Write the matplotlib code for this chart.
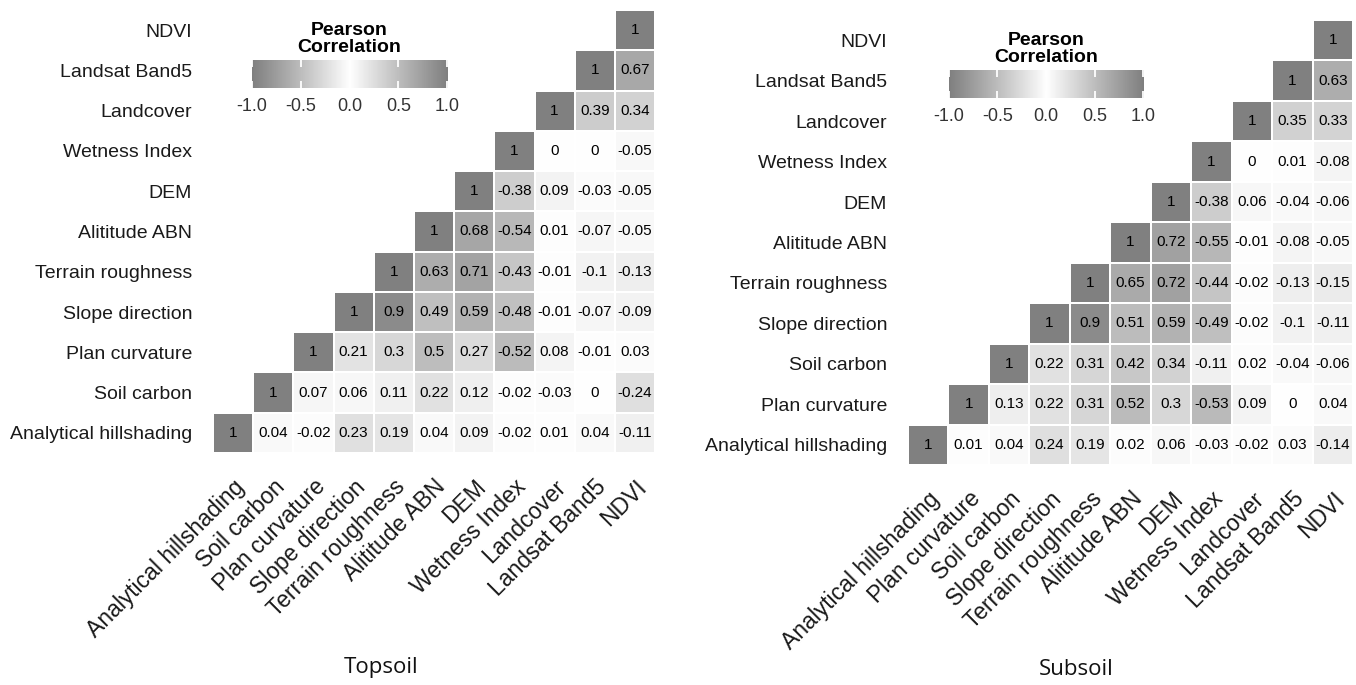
import matplotlib
matplotlib.use("Agg")
import matplotlib.pyplot as plt
import numpy as np
from matplotlib.colors import ListedColormap

plt.rcParams["font.family"] = ["Liberation Sans", "DejaVu Sans"]

# variable order, bottom row / first column first
top_vars = ["Analytical hillshading", "Soil carbon", "Plan curvature",
            "Slope direction", "Terrain roughness", "Alititude ABN", "DEM",
            "Wetness Index", "Landcover", "Landsat Band5", "NDVI"]
sub_vars = ["Analytical hillshading", "Plan curvature", "Soil carbon",
            "Slope direction", "Terrain roughness", "Alititude ABN", "DEM",
            "Wetness Index", "Landcover", "Landsat Band5", "NDVI"]

# upper triangle, row i holds corr(var_i, var_j) for j = i..10
top_rows = [
    [1, 0.04, -0.02, 0.23, 0.19, 0.04, 0.09, -0.02, 0.01, 0.04, -0.11],
    [1, 0.07, 0.06, 0.11, 0.22, 0.12, -0.02, -0.03, 0, -0.24],
    [1, 0.21, 0.3, 0.5, 0.27, -0.52, 0.08, -0.01, 0.03],
    [1, 0.9, 0.49, 0.59, -0.48, -0.01, -0.07, -0.09],
    [1, 0.63, 0.71, -0.43, -0.01, -0.1, -0.13],
    [1, 0.68, -0.54, 0.01, -0.07, -0.05],
    [1, -0.38, 0.09, -0.03, -0.05],
    [1, 0, 0, -0.05],
    [1, 0.39, 0.34],
    [1, 0.67],
    [1],
]
sub_rows = [
    [1, 0.01, 0.04, 0.24, 0.19, 0.02, 0.06, -0.03, -0.02, 0.03, -0.14],
    [1, 0.13, 0.22, 0.31, 0.52, 0.3, -0.53, 0.09, 0, 0.04],
    [1, 0.22, 0.31, 0.42, 0.34, -0.11, 0.02, -0.04, -0.06],
    [1, 0.9, 0.51, 0.59, -0.49, -0.02, -0.1, -0.11],
    [1, 0.65, 0.72, -0.44, -0.02, -0.13, -0.15],
    [1, 0.72, -0.55, -0.01, -0.08, -0.05],
    [1, -0.38, 0.06, -0.04, -0.06],
    [1, 0, 0.01, -0.08],
    [1, 0.35, 0.33],
    [1, 0.63],
    [1],
]
cbar_ticks = [-1.0, -0.5, 0.0, 0.5, 1.0]


def gray_lab_cmap(n=256):
    # gray50 -> white -> gray50, interpolated in CIE L*
    def l_to_srgb(L):
        fy = (L + 16) / 116
        Y = np.where(L > 8, fy ** 3, L / 903.3)
        return np.where(Y <= 0.0031308, 12.92 * Y, 1.055 * Y ** (1 / 2.4) - 0.055)
    L_end = 53.585  # L* of gray50
    t = np.linspace(-1, 1, n)
    L = 100 - np.abs(t) * (100 - L_end)
    g = np.clip(l_to_srgb(L), 0, 1)
    return ListedColormap(np.column_stack([g, g, g]))


cmap = gray_lab_cmap()


def draw_panel(fig, rect, cbar_rect, labels, rows, title, title_xy):
    n = len(labels)
    mat = np.full((n, n), np.nan)
    for i, r in enumerate(rows):
        mat[i, i:] = r

    ax = fig.add_axes(rect)
    ax.pcolormesh(np.arange(n + 1), np.arange(n + 1), np.ma.masked_invalid(mat),
                  cmap=cmap, vmin=-1, vmax=1, edgecolor="white", linewidth=1.2)
    for i in range(n):
        for j in range(i, n):
            ax.text(j + 0.5, i + 0.5, f"{mat[i, j]:g}", ha="center", va="center",
                    fontsize=11, color="black")
    ax.set_xlim(0, n)
    ax.set_ylim(0, n)
    ax.set_xticks(np.arange(n) + 0.5)
    ax.set_yticks(np.arange(n) + 0.5)
    ax.set_xticklabels(labels, rotation=45, ha="right", va="top",
                       rotation_mode="anchor", fontsize=16.5, color="#1a1a1a")
    ax.set_yticklabels(labels, fontsize=14, color="#1a1a1a")
    ax.tick_params(length=0, pad=15)
    ax.tick_params(axis="x", pad=16)
    for s in ax.spines.values():
        s.set_visible(False)

    # colour legend
    cax = fig.add_axes(cbar_rect)
    grad = np.linspace(-1, 1, 300).reshape(1, -1)
    cax.imshow(grad, cmap=cmap, vmin=-1, vmax=1, aspect="auto",
               extent=[-1, 1, 0, 1])
    cax.set_xlim(-1.02, 1.02)
    cax.set_yticks([])
    cax.set_xticks(cbar_ticks)
    cax.set_xticklabels([f"{t:.1f}" for t in cbar_ticks], fontsize=13,
                        color="#333333")
    cax.tick_params(axis="x", direction="in", length=5, width=1.3,
                    color="white", top=True, bottom=True, pad=7)
    for s in cax.spines.values():
        s.set_visible(False)
    cax.set_title("Pearson\nCorrelation", fontsize=14, fontweight="bold",
                  linespacing=0.95, pad=6)

    fig.text(title_xy[0], title_xy[1], title, ha="center", va="center",
             fontsize=16, family="Open Sans", color="#111111")


fig = plt.figure(figsize=(13.56, 6.85), dpi=100)
draw_panel(fig, [0.1571, 0.3387, 0.326, 0.6467], [0.1844, 0.8715, 0.1468, 0.0409],
           top_vars, top_rows, "Topsoil", (0.281, 0.025))
draw_panel(fig, [0.6696, 0.3212, 0.3282, 0.6496], [0.6984, 0.857, 0.146, 0.0409],
           sub_vars, sub_rows, "Subsoil", (0.794, 0.022))
fig.savefig("out.png", dpi=100)
